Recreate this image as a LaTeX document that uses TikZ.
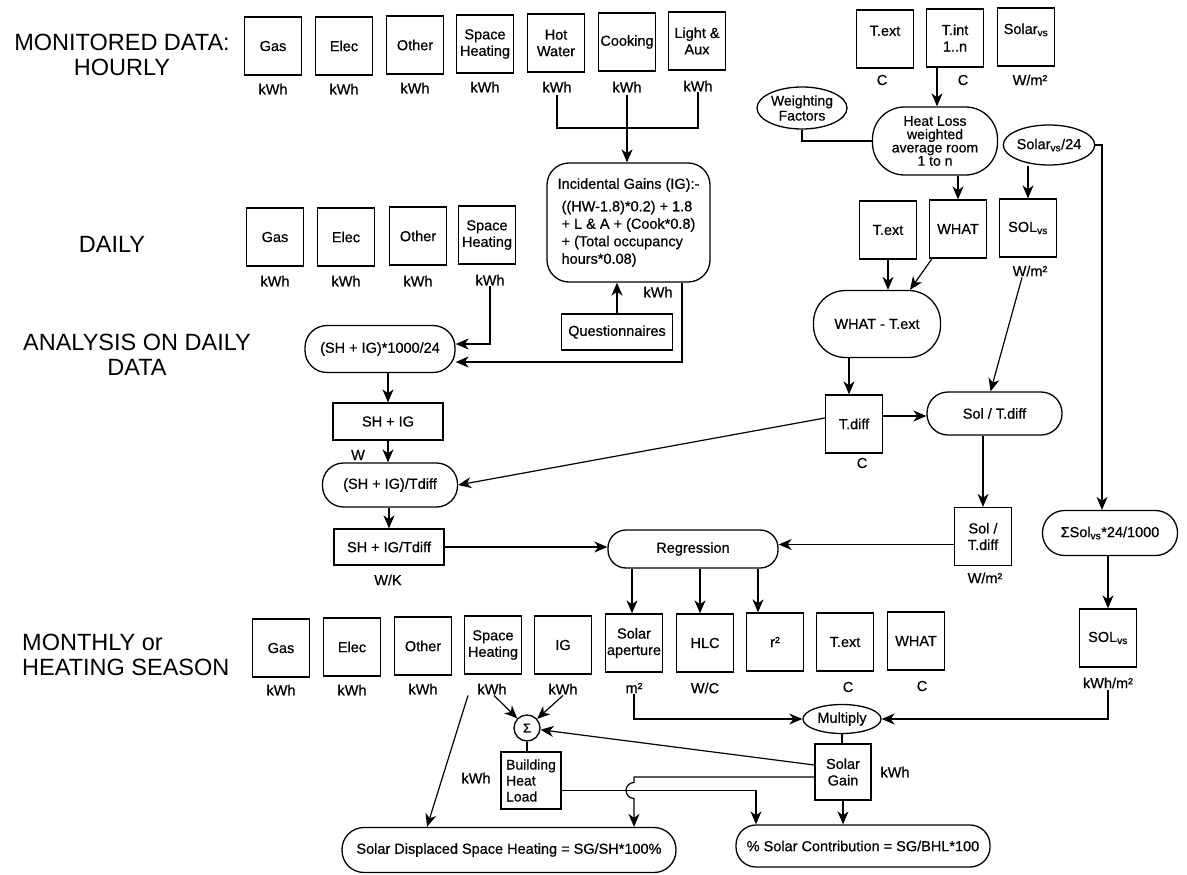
\documentclass[tikz,border=0pt]{standalone}
\usepackage{fontspec}
\setmainfont{Liberation Sans}
\newfontfamily\heavyfam[FakeBold=0.6]{Liberation Sans}
\usetikzlibrary{shapes.geometric,arrows.meta,calc}
\newcommand{\bxf}{\heavyfam\fontsize{14.5}{16.5}\selectfont}
\newcommand{\scf}{\fontsize{23.5}{25}\selectfont}
\begin{document}
\begin{tikzpicture}[x=1pt,y=-1pt,
  lw/.style={line width=1.3pt},
  box/.style={draw, lw, rectangle, minimum width=57pt, minimum height=58pt, inner sep=0pt, align=center, font=\bxf},
  rbox/.style={draw, lw, rectangle, inner sep=0pt, align=center, font=\bxf},
  stad/.style={draw, lw, rectangle, inner sep=0pt, align=center, font=\bxf},
  oval/.style={draw, lw, ellipse, inner sep=0pt, align=center, font=\bxf},
  unit/.style={inner sep=1pt, font=\bxf},
  sect/.style={inner sep=0pt, align=center, font=\scf},
  ln/.style={line width=1.2pt},
  arr/.style={line width=1.2pt, -{Stealth[length=13pt,width=11pt,inset=4pt]}},
]
\fill[white] (0,0) rectangle (1187,875);
\useasboundingbox (0,0) rectangle (1187,875);

% section labels
\node[sect] (s1) at (122,55) {MONITORED DATA:\\HOURLY};
\node[sect] (s2) at (112,244) {DAILY};
\node[sect] (s3) at (137,355) {ANALYSIS ON DAILY\\DATA};
\node[sect, align=left, anchor=west] (s4) at (22,655) {MONTHLY or\\HEATING SEASON};

% hourly
\node[box] (hgas) at (273,46) {Gas};
\node[box] (hele) at (344,46) {Elec};
\node[box] (hoth) at (415,45) {Other};
\node[box] (hsh) at (485,44) {Space\\Heating};
\node[box] (hhw) at (556,43) {Hot\\Water};
\node[box] (hck) at (627,42) {Cooking};
\node[box] (hla) at (697,41) {Light \&\\Aux};
\node[unit] (uhgas) at (273,89) {kWh};
\node[unit] (uhele) at (344,89) {kWh};
\node[unit] (uhoth) at (415,88) {kWh};
\node[unit] (uhsh) at (485,87) {kWh};
\node[unit] (uhhw) at (557,87) {kWh};
\node[unit] (uhck) at (627,87) {kWh};
\node[unit] (uhla) at (698,86) {kWh};

% top right
\node[box] (htx) at (885,39) {T.ext\\~};
\node[box] (hti) at (955,38) {T.int\\1..n};
\node[box] (hso) at (1026,37) {Solar\textsubscript{vs}\\~};
\node[unit] (uhtx) at (882,80) {C};
\node[unit] (uhti) at (963,80) {C};
\node[unit] (uhso) at (1030,80) {W/m²};

\node[oval, minimum width=90pt, minimum height=42pt, font=\heavyfam\fontsize{14}{15}\selectfont] (wf) at (802,108) {Weighting\\Factors};
\node[stad, rounded corners=32pt, minimum width=125pt, minimum height=68pt, font=\heavyfam\fontsize{14}{13.3}\selectfont] (hl) at (935,141) {Heat Loss\\weighted\\average room\\1 to n};
\node[oval, minimum width=85pt, minimum height=40pt] (sw) at (1049,145) {Solar\textsubscript{vs}/24};

% incidental gains
\node[stad, rounded corners=22pt, minimum width=163pt, minimum height=119pt, align=left, font=\heavyfam\fontsize{14.5}{17.5}\selectfont] (ig) at (628.5,222.5) {Incidental Gains (IG):-\\[5pt]\hspace*{4pt}((HW-1.8)*0.2) + 1.8\\\hspace*{4pt}+ L \& A + (Cook*0.8)\\\hspace*{4pt}+ (Total occupancy\\\hspace*{4pt}hours*0.08)};
\node[rbox, minimum width=111pt, minimum height=36pt] (qu) at (617,332) {Questionnaires};
\node[unit] (uig) at (658,292) {kWh};

% daily
\node[box] (dgas) at (275,237) {Gas};
\node[box] (dele) at (346,237) {Elec};
\node[box] (doth) at (418,236) {Other};
\node[box] (dsh) at (487,235) {Space\\Heating};
\node[unit] (udgas) at (275,281) {kWh};
\node[unit] (udele) at (346,281) {kWh};
\node[unit] (udoth) at (418,281) {kWh};
\node[unit] (udsh) at (490,280) {kWh};

% analysis
\node[stad, rounded corners=22pt, minimum width=150pt, minimum height=47pt] (c1) at (380,349) {(SH + IG)*1000/24};
\node[rbox, minimum width=110pt, minimum height=37pt] (shig) at (388,421.5) {SH + IG};
\node[unit] (ushig) at (358,455) {W};
\node[stad, rounded corners=21pt, minimum width=135pt, minimum height=44pt] (c2) at (390,485) {(SH + IG)/Tdiff};
\node[rbox, minimum width=110pt, minimum height=36pt] (shigt) at (389,547) {SH + IG/Tdiff};
\node[unit] (ushigt) at (388,580) {W/K};

% right middle
\node[box] (mtx) at (888,230) {T.ext};
\node[box] (mwh) at (958,229) {WHAT};
\node[box] (msv) at (1028,228) {SOL\textsubscript{vs}};
\node[unit] (umsv) at (1030,271) {W/m²};
\node[stad, rounded corners=32pt, minimum width=127pt, minimum height=67pt] (wt) at (877,324) {WHAT - T.ext};
\node[box] (td) at (854,424) {T.diff};
\node[unit] (utd) at (862,463) {C};
\node[stad, rounded corners=21pt, minimum width=135pt, minimum height=43pt] (st) at (994.5,413.5) {Sol / T.diff};
\node[box] (stb) at (983,536.5) {Sol /\\T.diff};
\node[unit] (ustb) at (985,578) {W/m²};
\node[stad, rounded corners=22pt, minimum width=135pt, minimum height=45pt] (ss) at (1110,533) {ΣSol\textsubscript{vs}*24/1000};
\node[stad, rounded corners=18pt, minimum width=170pt, minimum height=38pt] (reg) at (693,549) {Regression};

% monthly
\node[box] (bgas) at (281,648) {Gas};
\node[box] (bele) at (352,647) {Elec};
\node[box] (both) at (423,646) {Other};
\node[box] (bsh) at (493,645) {Space\\Heating};
\node[box] (big) at (563,645) {IG};
\node[box] (bsa) at (634,643) {Solar\\aperture};
\node[box] (bhlc) at (705,643) {HLC};
\node[box] (br2) at (775,642) {r²};
\node[box] (btx) at (845,642) {T.ext};
\node[box] (bwh) at (916,641) {WHAT};
\node[box] (bsv) at (1108,638) {SOL\textsubscript{vs}};
\node[unit] (ubgas) at (281,690) {kWh};
\node[unit] (ubele) at (352,690) {kWh};
\node[unit] (uboth) at (423,689) {kWh};
\node[unit] (ubsh) at (492,689) {kWh};
\node[unit] (ubig) at (563,689) {kWh};
\node[unit] (ubsa) at (634,688) {m²};
\node[unit] (ubhlc) at (705,688) {W/C};
\node[unit] (ubtx) at (848,687) {C};
\node[unit] (ubwh) at (922,686) {C};
\node[unit] (ubsv) at (1108,683) {kWh/m²};

\node[oval, minimum width=78pt, minimum height=29pt] (mu) at (842,719) {Multiply};
\node[rbox, minimum width=56pt, minimum height=56pt] (sg) at (843,772) {Solar\\Gain};
\node[unit] (usg) at (895,772) {kWh};
\node[draw, lw, circle, minimum size=26pt, inner sep=0pt, font=\heavyfam\fontsize{13}{13}\selectfont] (sig) at (527,728) {Σ};
\node[rbox, minimum width=60pt, minimum height=57pt, align=left, font=\heavyfam\fontsize{14}{16}\selectfont] (bhl) at (531,780.5) {Building\\Heat\\Load};
\node[unit] (ubhl) at (476,778) {kWh};
\node[stad, rounded corners=22pt, minimum width=334pt, minimum height=45pt] (sd) at (509,850) {Solar Displaced Space Heating = SG/SH*100\%};
\node[stad, rounded corners=20pt, minimum width=254pt, minimum height=42pt] (pc) at (863,846) {\% Solar Contribution = SG/BHL*100};

% ---- connectors ----
\coordinate (jt) at (627,128);
\draw[ln, shorten <=2pt] (uhhw.south) -- (uhhw.south |- jt) -- (uhla.south |- jt) -- (uhla.south);
\draw[arr, shorten <=2pt] (uhck.south) -- (uhck.south |- ig.north);
\draw[arr] (qu.north) -- (qu.north |- ig.south);
\draw[arr] ([xshift=53.5pt]ig.south) |- ([yshift=-13pt]c1.east);
\draw[arr] (udsh.south) |- ([yshift=5pt]c1.east);
\draw[arr] (shig.north |- c1.south) -- (shig.north);
\draw[arr] (shig.south) -- (shig.south |- c2.north);
\draw[arr] (shigt.north |- c2.south) -- (shigt.north);
\draw[arr] (shigt.east) -- (shigt.east -| reg.west);

\coordinate (tia) at ([xshift=-18pt]hti.south);
\draw[arr] (tia) -- (tia |- hl.north);
\draw[ln] (wf.south) |- (hl.west);
\draw[arr] (mwh.north |- hl.south) -- (mwh.north);
\draw[arr] (msv.north |- sw.south) -- (msv.north);
\coordinate (c24) at (1102,145);
\draw[arr] (sw.east) -- (c24) -- (c24 |- ss.north);

\draw[arr] (mtx.south) -- (mtx.south |- wt.north);
\coordinate (wtin) at ([xshift=33pt]wt.north);
\draw[arr] ([xshift=-26pt]mwh.south) -- (wtin);
\coordinate (stin) at ([xshift=-4pt]st.north);
\draw[arr] ([xshift=-8pt]umsv.south) -- (stin);
\coordinate (tdin) at ([xshift=-5pt]td.north);
\draw[arr] (tdin |- wt.south) -- (tdin);
\coordinate (tde) at ([yshift=8pt]td.east);
\draw[arr] (tde) -- (tde -| st.west);
\draw[arr] (stb.north |- st.south) -- (stb.north);
\draw[arr] ([yshift=6pt]td.west) -- (c2.east);
\coordinate (stbw) at ([yshift=-8pt]stb.west);
\draw[arr] (stbw) -- (stbw -| reg.east);
\draw[arr] (bsv.north |- ss.south) -- (bsv.north);

\coordinate (sain) at ([xshift=-2pt]bsa.north);
\draw[arr] (sain |- reg.south) -- (sain);
\coordinate (hlcin) at ([xshift=-5pt]bhlc.north);
\draw[arr] (hlcin |- reg.south) -- (hlcin);
\coordinate (r2in) at ([xshift=-17pt]br2.north);
\draw[arr] (r2in |- reg.south) -- (r2in);

\draw[arr] (ubsa.south) |- (mu.west);
\draw[arr] (ubsv.south) |- (mu.east);
\draw[ln] (mu.south) -- (mu.south |- sg.north);
\draw[arr] (sg.south) -- (sg.south |- pc.north);
\draw[arr] ([yshift=7pt]sg.west) -- (sig);
\draw[arr] ([xshift=2pt]ubsh.south) -- (sig);
\draw[arr] (ubig.south) -- (sig);
\draw[ln] (sig.south) -- (sig.south |- bhl.north);
\coordinate (sdin) at ([xshift=-82pt]sd.north);
\draw[arr] ([xshift=-24pt]ubsh.south) -- (sdin);
\coordinate (bhe) at ([yshift=-10pt]bhl.east);
\coordinate (pcin) at ([xshift=-107pt]pc.north);
\draw[arr] (bhe) -| (pcin);
\coordinate (sgw) at ([yshift=-5pt]sg.west);
\coordinate (sdin2) at ([xshift=125pt]sd.north);
\coordinate (hopc) at (sdin2 |- bhe);
\coordinate (hopt) at ([yshift=8pt]hopc);
\draw[arr] (sgw) -- (sdin2 |- sgw) -- (hopt) arc[start angle=90, end angle=270, radius=8pt] -- (sdin2);
\end{tikzpicture}
\end{document}
